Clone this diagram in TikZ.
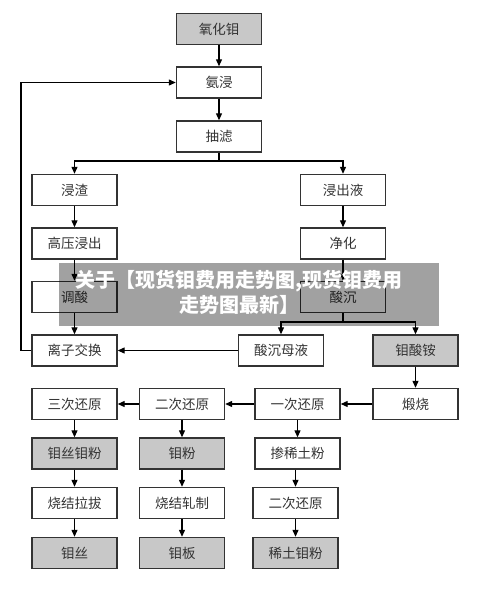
\documentclass[tikz,border=0pt]{standalone}
\usepackage{fontspec}
\newfontfamily\cjk{Noto Sans CJK SC}
\usetikzlibrary{arrows.meta}
\definecolor{boxgray}{HTML}{C8C8C8}
\definecolor{edgegray}{HTML}{333333}
\tikzset{
  box/.style={draw=edgegray,line width=1.4pt,minimum width=85pt,minimum height=31pt,inner sep=0pt,font=\cjk\fontsize{13.5}{14}\selectfont,text=edgegray},
  gbox/.style={box,fill=boxgray},
  flow/.style={line width=1.2pt,-{Triangle[length=7pt,width=6pt]}},
  plain/.style={line width=1.2pt}
}
\begin{document}
\begin{tikzpicture}[x=1pt,y=-1pt]
\useasboundingbox (0,0) rectangle (500,589);
\node[gbox] (n1) at (219,29) {氧化钼};
\node[box] (n2) at (219,82.5) {氨浸};
\node[box] (n3) at (219,136.5) {抽滤};
\node[box] (n4) at (74.5,190) {浸渣};
\node[box] (n5) at (343,190) {浸出液};
\node[box] (n6) at (74.5,243.5) {高压浸出};
\node[box] (n7) at (343,243.5) {净化};
\node[box] (n8) at (74.5,297) {调酸};
\node[box] (n9) at (343,297) {酸沉};
\node[box] (n10) at (74.5,350.5) {离子交换};
\node[box] (n11) at (281,350.5) {酸沉母液};
\node[gbox] (n12) at (415.5,350.5) {钼酸铵};
\node[box] (n13) at (74.5,404) {三次还原};
\node[box] (n14) at (182,404) {二次还原};
\node[box] (n15) at (297.5,404) {一次还原};
\node[box] (n16) at (415.5,404) {煅烧};
\node[gbox] (n17) at (74.5,453.5) {钼丝钼粉};
\node[gbox] (n18) at (182,453.5) {钼粉};
\node[box] (n19) at (297.5,453.5) {掺稀土粉};
\node[box] (n20) at (74.5,503) {烧结拉拔};
\node[box] (n21) at (182,503) {烧结轧制};
\node[box] (n22) at (295.5,503) {二次还原};
\node[gbox] (n23) at (74.5,553) {钼丝};
\node[gbox] (n24) at (182,553) {钼板};
\node[gbox] (n25) at (295.5,553) {稀土钼粉};

\draw[flow] (n1) -- (n2);
\draw[flow] (n2) -- (n3);
\coordinate (b1) at (219,161);
\draw[plain] (n3.south) -- (b1);
\draw[flow] (b1) -| (n4.north);
\draw[flow] (b1) -| (n5.north);
\draw[flow] (n4) -- (n6);
\draw[flow] (n6) -- (n8);
\draw[flow] (n8) -- (n10);
\draw[flow] (n5) -- (n7);
\draw[flow] (n7) -- (n9);
\coordinate (b2) at (343,322);
\draw[plain] (n9.south) -- (b2);
\draw[flow] (b2) -| (n11.north);
\draw[flow] (b2) -| (n12.north);
\draw[flow] (n11) -- (n10);
\coordinate (fb) at (21,350.5);
\draw[plain] (n10.west) -- (fb);
\draw[flow] (fb) |- (n2.west);
\draw[flow] (n12) -- (n16);
\draw[flow] (n16) -- (n15);
\draw[flow] (n15) -- (n14);
\draw[flow] (n14) -- (n13);
\draw[flow] (n13) -- (n17);
\draw[flow] (n17) -- (n20);
\draw[flow] (n20) -- (n23);
\draw[flow] (n14) -- (n18);
\draw[flow] (n18) -- (n21);
\draw[flow] (n21) -- (n24);
\draw[flow] (n15) -- (n19);
\draw[flow] (n19.south -| n22) -- (n22);
\draw[flow] (n22) -- (n25);

\fill[black,opacity=0.37] (59,263) rectangle (439,326);
\node[text=white,font=\cjk\bfseries\fontsize{20}{25}\selectfont,align=center] (wm) at (239,292.5) {关于【现货钼费用走势图,现货钼费用\\走势图最新】};
\end{tikzpicture}
\end{document}
